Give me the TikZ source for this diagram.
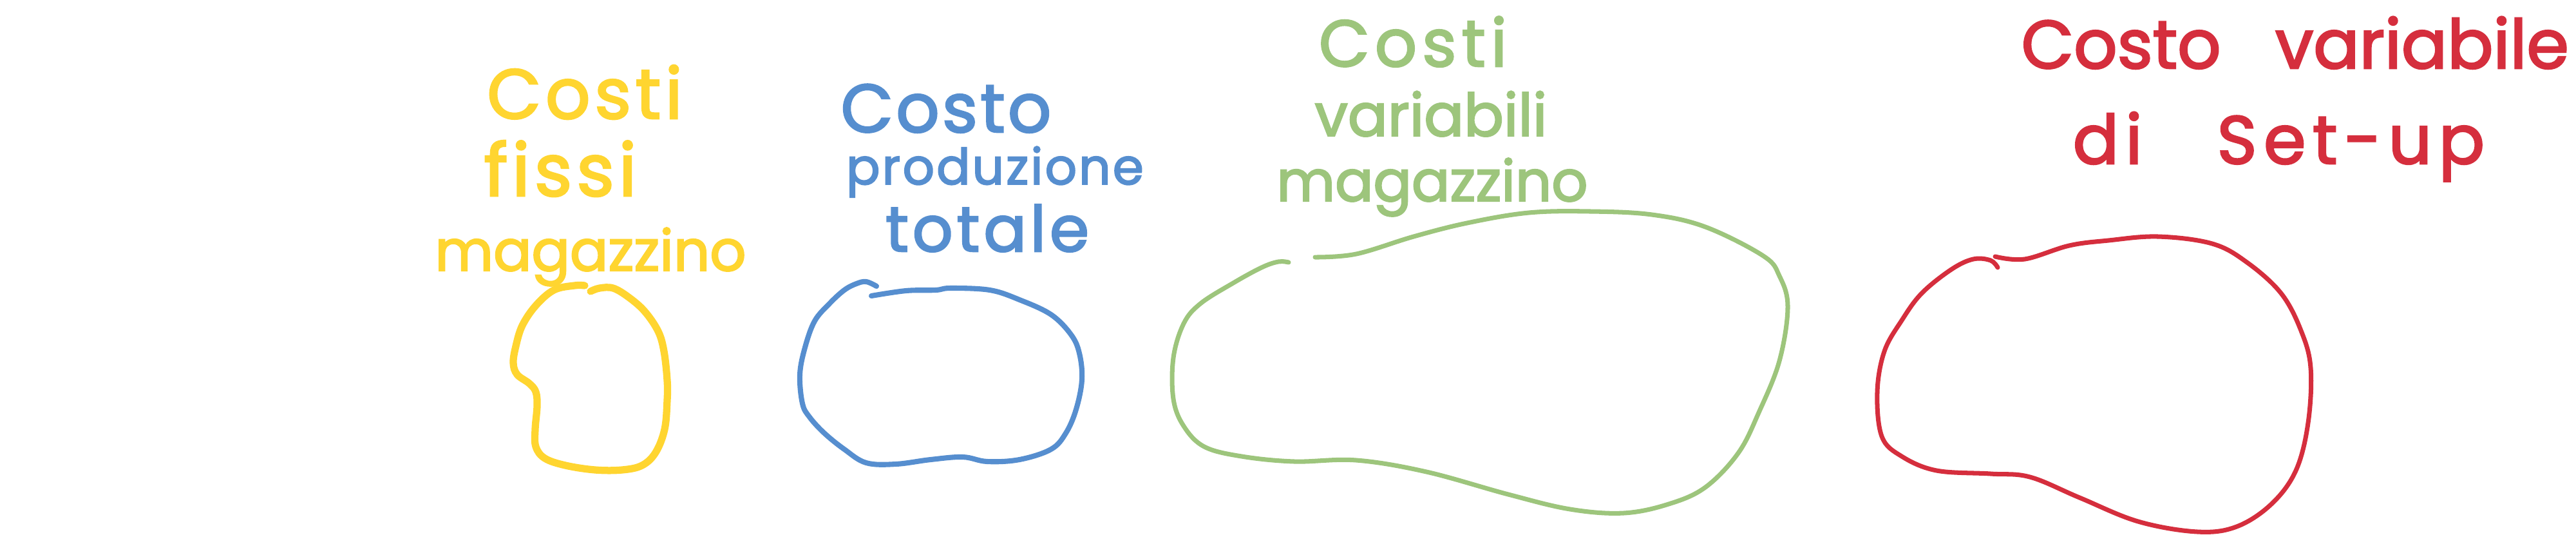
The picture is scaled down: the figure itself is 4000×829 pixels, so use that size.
\documentclass[tikz,border=0pt]{standalone}
\usepackage{fontspec}
\setmainfont{Poppins}[FakeBold=2.5]
\definecolor{yel}{RGB}{255,213,48}
\definecolor{blu}{RGB}{86,142,207}
\definecolor{grn}{RGB}{157,197,124}
\definecolor{rdd}{RGB}{213,46,61}
\tikzset{
  pen/.style={line cap=round, line join=round},
  word/.style={inner sep=0pt, anchor=base},
  yelword/.style={word, text=yel},
  bluword/.style={word, text=blu},
  grnword/.style={word, text=grn},
  rddword/.style={word, text=rdd, anchor=base west},
}
\newcommand{\hand}[1]{\fontsize{#1}{#1}\selectfont}
\newcommand{\wide}[1]{\addfontfeatures{LetterSpace=#1}}

\begin{document}
\begin{tikzpicture}[x={(0.01cm,0)}, y={(0,-0.01cm)}]
  \useasboundingbox (0,0) rectangle (4000,829);
  % costi fissi
  \node[yelword, font=\hand{31}\wide{6}] (fissiA) at (908,184) {Costi};
  \node[yelword, font=\hand{32}\wide{6}] (fissiB) at (870,304) {fissi};
  \node[yelword, font=\hand{25}] (fissiC) at (917,420) {magazzino};
  \draw[pen, yel, line width=3.2pt] plot[smooth, tension=0.6] coordinates {(908,443) (892,443) (860,450) (832,474) (811,505) (801,537) (797,563) (803,581) (822,595) (832,608) (834,630) (831,666) (832,693) (846,711) (878,722) (924,729) (966,729) (997,722) (1018,702) (1032,666) (1036,621) (1036,590) (1031,545) (1022,514) (1001,483) (976,461) (952,447) (931,447) (917,452)};
  % costo totale
  \node[bluword, font=\hand{30}\wide{4}] (totA) at (1469,205) {Costo};
  \node[bluword, font=\hand{22}\wide{4}] (totB) at (1545,286) {produzione};
  \node[bluword, font=\hand{28}\wide{6}] (totC) at (1533,390) {totale};
  \draw[pen, blu, line width=2.3pt] plot[smooth, tension=0.6] coordinates {(1361,444) (1345,437) (1330,440) (1311,450) (1288,471) (1265,498) (1250,539) (1242,581) (1246,626) (1257,647) (1280,672) (1311,697) (1345,718) (1391,720) (1445,713) (1495,709) (1533,716) (1583,713) (1632,697) (1655,672) (1671,635) (1680,589) (1676,548) (1663,519) (1632,488) (1583,465) (1537,450) (1476,447) (1453,450) (1407,451) (1353,459)};
  % costi variabili
  \node[grnword, font=\hand{29}\wide{8}] (varA) at (2194,103) {Costi};
  \node[grnword, font=\hand{26}] (varB) at (2222,211) {variabili};
  \node[grnword, font=\hand{25}] (varC) at (2224,312) {magazzino};
  \draw[pen, grn, line width=2pt] plot[smooth, tension=0.6] coordinates {(2001,407) (1985,406) (1959,415) (1915,439) (1864,471) (1838,502) (1822,555) (1822,619) (1838,661) (1870,693) (1928,708) (2010,716) (2106,714) (2215,732) (2342,767) (2438,790) (2521,796) (2591,782) (2648,756) (2699,703) (2731,640) (2763,560) (2776,476) (2763,428) (2738,397) (2648,352) (2565,333) (2470,328) (2374,330) (2278,346) (2195,367) (2106,394) (2042,399)};
  % set-up
  \node[rddword, font=\hand{30}] (setA) at (3138,106) {Costo\hspace{16pt} variabile};
  \node[rddword, font=\hand{30}\wide{10}] (setB) at (3218,254) {di\hspace{22pt} Set-up};
  \draw[pen, rdd, line width=2pt] plot[smooth, tension=0.6] coordinates {(3102,415) (3091,404) (3064,402) (3030,418) (2984,455) (2953,497) (2926,545) (2915,608) (2922,677) (2953,708) (3007,730) (3091,735) (3152,740) (3229,772) (3320,809) (3412,825) (3473,817) (3527,782) (3565,730) (3584,656) (3588,571) (3573,513) (3542,455) (3489,407) (3435,378) (3351,367) (3274,373) (3213,381) (3144,402) (3098,398)};
\end{tikzpicture}
\end{document}
